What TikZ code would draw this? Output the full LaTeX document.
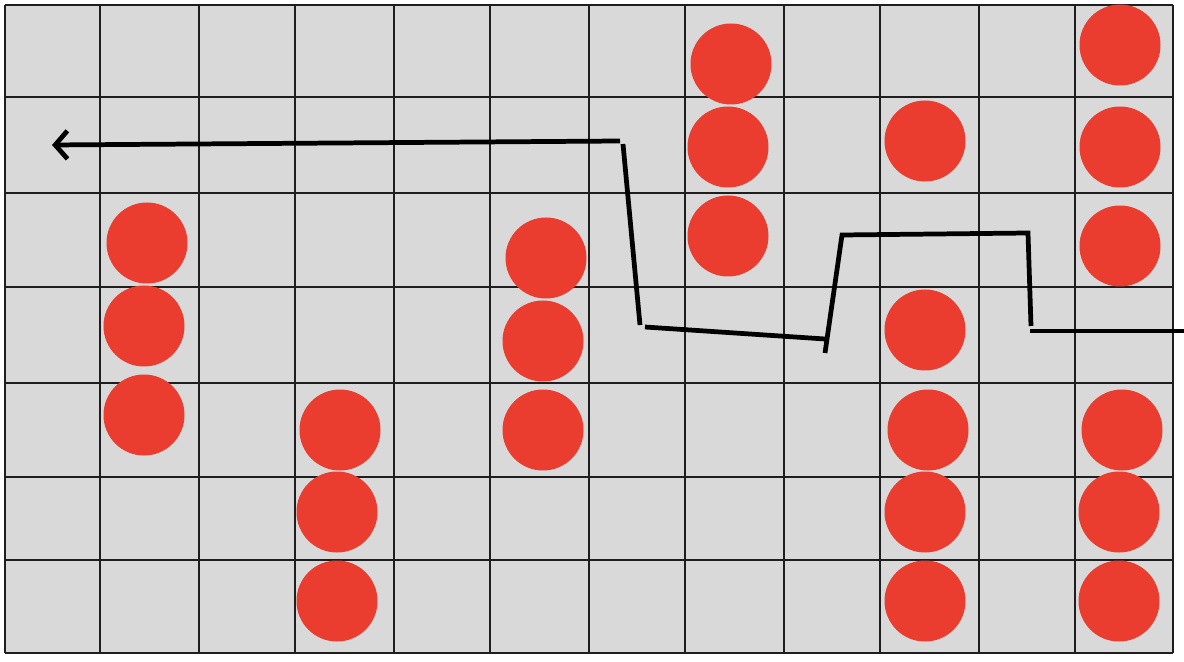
\documentclass[tikz,border=0pt]{standalone}
\usetikzlibrary{arrows.meta}
\definecolor{board}{HTML}{D9D9D9}
\definecolor{gridline}{HTML}{1E1E1E}
\definecolor{stone}{HTML}{EA3C2F}
\tikzset{
 cell/.style={draw=gridline,line width=.8pt},
 token/.style={fill=stone,draw=none},
 move/.style={draw=black,line width=2.7pt},
 goal/.style={move,{Straight Barb[length=7pt,width=16pt,line width=2.7pt]}-},
}
\begin{document}
\begin{tikzpicture}[x=0.02cm,y=-0.02cm]

\useasboundingbox (0,0) rectangle (1184,662);
\fill[board] (5,5) rectangle (1173,653);
\foreach \x in {5,100,199,295,394,490,589,685,784,880,979,1075,1173}
  \draw[cell] (\x,5) -- (\x,653);
\foreach \y in {5,97,193,287,383,477,560,653}
  \draw[cell] (5,\y) -- (1173,\y);

% red pieces
\foreach \x/\y in {147/243,144/326,144/415,
  340/430,337/512,337/601,
  546/258,543/341,543/430,
  731/64,728/147,728/236,
  925/141,925/330,928/430,925/512,925/601,
  1120/45,1120/147,1120/246,1122/430,1119/512,1119/601}
  \fill[token] (\x,\y) circle (40.5);

% route of the path
\coordinate (p1) at (52,145);
\coordinate (p2) at (620,141);
\coordinate (p3) at (623,144);
\coordinate (p4) at (640,325);
\coordinate (p5) at (645,327);
\coordinate (p6) at (825,339);
\coordinate (p7) at (825,353);
\coordinate (p8) at (842,235);
\coordinate (p9) at (1028,233);
\coordinate (p10) at (1031,326);
\coordinate (p11) at (1030,331);
\coordinate (p12) at (1184,331);
\draw[goal] (p1) -- (p2);
\draw[move] (p3) -- (p4);
\draw[move] (p5) -- (p6);
\draw[move] (p7) -- (p8) -- (p9) -- (p10);
\draw[move] (p11) -- (p12);

\end{tikzpicture}
\end{document}
